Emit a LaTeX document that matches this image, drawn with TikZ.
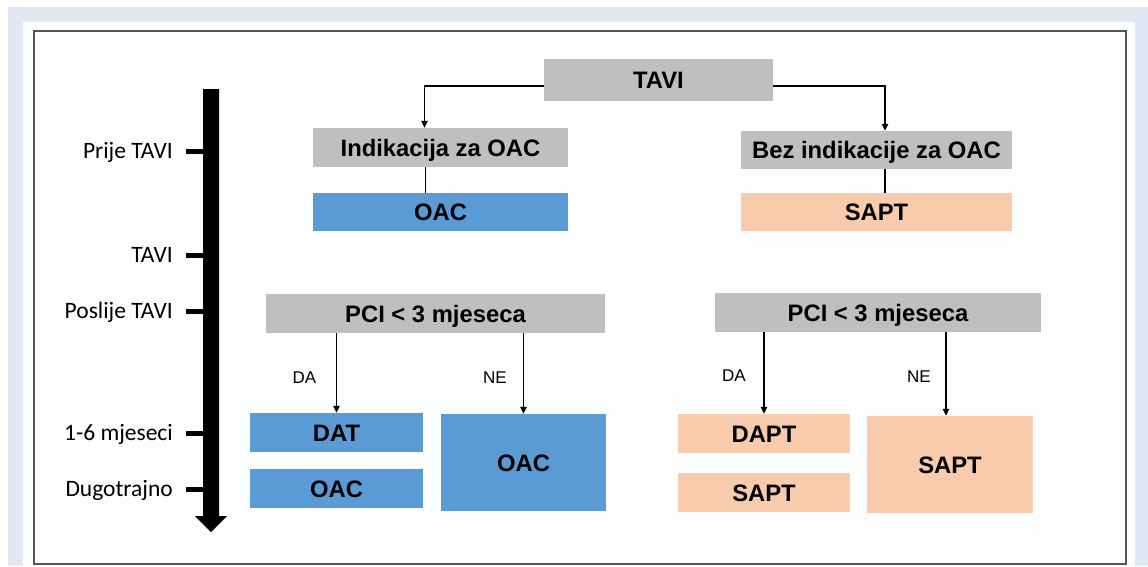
\documentclass[tikz,border=0pt]{standalone}
\usepackage{fontspec}
\setmainfont{Liberation Sans}
\newfontfamily\tickfont{Carlito}
\usetikzlibrary{arrows.meta,positioning}

\definecolor{boxgray}{RGB}{191,191,191}
\definecolor{oacblue}{RGB}{91,155,213}
\definecolor{saptpeach}{RGB}{248,203,173}
\definecolor{pagebg}{RGB}{225,232,244}
\definecolor{panelbg}{RGB}{252,253,255}
\definecolor{framegray}{RGB}{85,85,85}

\begin{document}
\begin{tikzpicture}[x=1pt, y=-1pt,
    box/.style={rectangle, inner sep=0pt, text height=17pt, text depth=0pt,
        font=\fontsize{23.8}{26}\selectfont\bfseries},
    graybox/.style={box, fill=boxgray, minimum height=39pt},
    oacbox/.style={box, fill=oacblue},
    saptbox/.style={box, fill=saptpeach},
    answer/.style={inner sep=0pt, text height=12pt, text depth=0pt,
        font=\fontsize{17}{20}\selectfont},
    ticklabel/.style={inner sep=0pt, anchor=base east, font=\tickfont\fontsize{23.5}{26}\selectfont},
    link/.style={line width=1.3pt},
    arrow/.style={link, -{Triangle[length=7pt,width=6.5pt]}}]
    \useasboundingbox (0,0) rectangle (1148,566);
    % Page and frame
    \fill[pagebg] (8,7) rectangle (1148,566);
    \fill[panelbg] (23,22) rectangle (1135,566);
    \draw[framegray, line width=1.5pt] (34,31) rectangle (1126,564);

    % Time line
    \fill (203,89) -- (219,89) -- (219,516) -- (227,516) -- (211,532)
        -- (195,516) -- (203,516) -- cycle;
    \foreach \y/\lbl in {151/Prije TAVI, 255/TAVI, 311/Poslije TAVI,
                         433/1-6 mjeseci, 489/Dugotrajno} {
        \node[ticklabel] (t\y) at (173,\y+7.5) {\lbl};
        \draw[line width=5pt] (186,\y) -- (204,\y);
    }

    % Top of the tree
    \node[graybox, minimum width=229pt, minimum height=42pt] (tavi) at (658.5,80) {TAVI};
    \node[graybox, minimum width=255pt] (indik) at (440.5,147.5) {Indikacija za OAC};
    \node[oacbox, minimum width=255pt, minimum height=38pt] (oac) at (440.5,212) {OAC};
    \node[graybox, minimum width=271pt, minimum height=38pt] (bez) at (876.5,150) {Bez indikacije za OAC};
    \node[saptbox, minimum width=271pt, minimum height=38pt] (sapt) at (876.5,212) {SAPT};

    % PCI branches
    \node[graybox, minimum width=339pt] (pcil) at (435.5,313.5) {PCI < 3 mjeseca};
    \node[graybox, minimum width=326pt] (pcir) at (878,312.5) {PCI < 3 mjeseca};
    \node[oacbox, minimum width=173pt, minimum height=39pt] (dat) at (336.5,432.5) {DAT};
    \node[oacbox, minimum width=173pt, minimum height=39pt] (oaclong) at (336.5,488.5) {OAC};
    \node[oacbox, minimum width=165pt, minimum height=97pt] (oacne) at (523.5,462.5) {OAC};
    \node[saptbox, minimum width=172pt, minimum height=39pt] (dapt) at (764,433.5) {DAPT};
    \node[saptbox, minimum width=172pt, minimum height=39pt] (saptlong) at (764,492.5) {SAPT};
    \node[saptbox, minimum width=166pt, minimum height=97pt] (saptne) at (950,464.5) {SAPT};

    \node[answer] (dal) at (304.5,377) {DA};
    \node[answer] (nel) at (495,377) {NE};
    \node[answer] (dar) at (734,375) {DA};
    \node[answer] (ner) at (919,376) {NE};

    % Connectors
    \draw[arrow] ([yshift=-6pt]tavi.west) -| ([xshift=-16pt]indik.north);
    \draw[arrow] ([yshift=-6pt]tavi.east) -| ([xshift=8.5pt]bez.north);
    \draw[link] ([xshift=-15pt]indik.south) -- ([xshift=-15pt]oac.north);
    \draw[link] ([xshift=8.5pt]bez.south) -- ([xshift=8.5pt]sapt.north);
    \draw[arrow] (pcil.south -| dat.north) -- (dat.north);
    \draw[arrow] (pcil.south -| oacne.north) -- (oacne.north);
    \draw[arrow] (pcir.south -| dapt.north) -- (dapt.north);
    \draw[arrow] ([xshift=-4pt]pcir.south -| saptne.north) -- ([xshift=-4pt]saptne.north);
\end{tikzpicture}
\end{document}
